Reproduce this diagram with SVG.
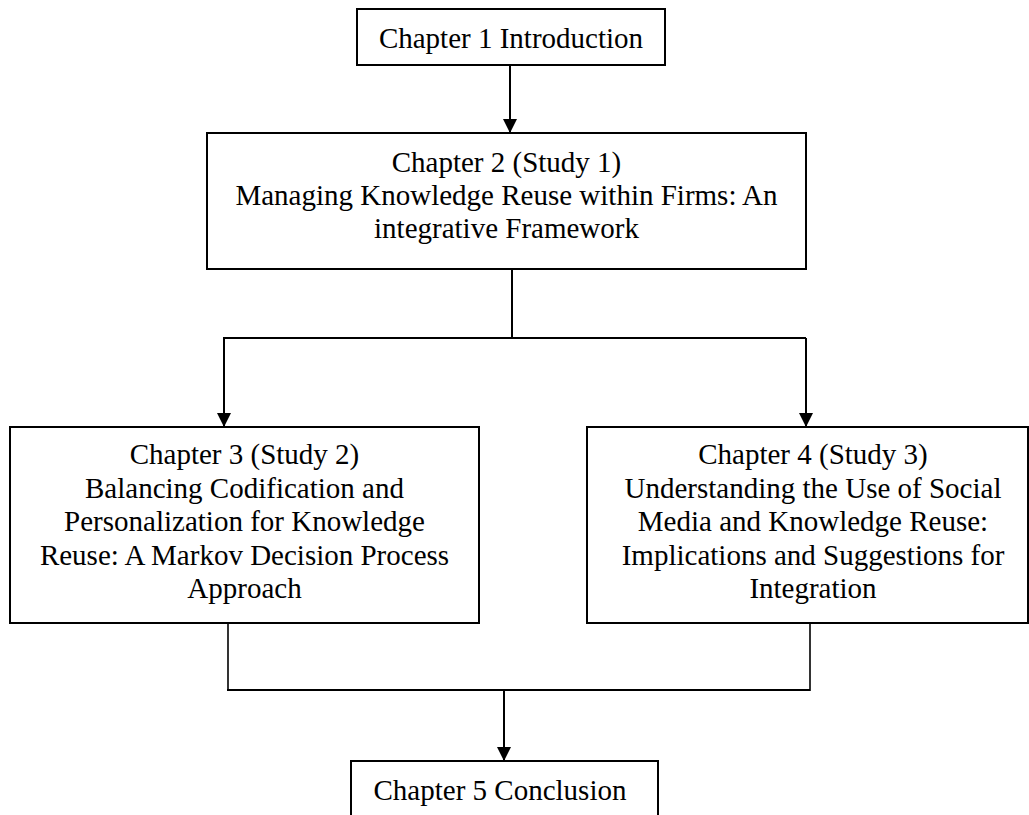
<svg xmlns="http://www.w3.org/2000/svg" width="1029" height="815" viewBox="0 0 1029 815">
<style>
.box{fill:#fff;stroke:#000;stroke-width:2}
.t{font-family:"Liberation Serif","Times New Roman",serif;font-size:29px;fill:#000;text-anchor:middle}
.c{fill:none;stroke:#000;stroke-width:2}
.c2{fill:none;stroke:#000;stroke-width:1.6}
</style>
<defs>
<marker id="ah" markerUnits="userSpaceOnUse" markerWidth="14" markerHeight="14" refX="14" refY="7" orient="auto">
<path d="M0,0 L14,7 L0,14 Z" fill="#000"/>
</marker>
</defs>
<g id="connectors">
<line class="c" x1="510" y1="65" x2="510" y2="133" marker-end="url(#ah)"/>
<polyline class="c" points="512,269 512,338"/>
<line class="c" x1="223" y1="338" x2="806" y2="338"/>
<line class="c" x1="224" y1="338" x2="224" y2="427" marker-end="url(#ah)"/>
<line class="c" x1="806" y1="338" x2="806" y2="427" marker-end="url(#ah)"/>
<line class="c2" x1="228" y1="624" x2="228" y2="691"/>
<line class="c2" x1="810" y1="624" x2="810" y2="691"/>
<line class="c" x1="227" y1="690" x2="810" y2="690"/>
<line class="c" x1="504" y1="690" x2="504" y2="761" marker-end="url(#ah)"/>
</g>
<g id="node1">
<rect class="box" x="357" y="9" width="308" height="56"/>
<text class="t" x="511" y="48">Chapter 1 Introduction</text>
</g>
<g id="node2">
<rect class="box" x="207" y="133" width="599" height="136"/>
<text class="t" x="506.5" y="172">Chapter 2 (Study 1)</text>
<text class="t" x="506.5" y="205">Managing Knowledge Reuse within Firms: An</text>
<text class="t" x="506.5" y="238">integrative Framework</text>
</g>
<g id="node3">
<rect class="box" x="10" y="427" width="469" height="196"/>
<text class="t" x="244.5" y="464">Chapter 3 (Study 2)</text>
<text class="t" x="244.5" y="497.5">Balancing Codification and</text>
<text class="t" x="244.5" y="531">Personalization for Knowledge</text>
<text class="t" x="244.5" y="564.5">Reuse: A Markov Decision Process</text>
<text class="t" x="244.5" y="598">Approach</text>
</g>
<g id="node4">
<rect class="box" x="587" y="427" width="441" height="196"/>
<text class="t" x="813" y="464">Chapter 4 (Study 3)</text>
<text class="t" x="813" y="497.5">Understanding the Use of Social</text>
<text class="t" x="813" y="531">Media and Knowledge Reuse:</text>
<text class="t" x="813" y="564.5">Implications and Suggestions for</text>
<text class="t" x="813" y="598">Integration</text>
</g>
<g id="node5">
<rect class="box" x="351" y="761" width="307" height="70"/>
<text class="t" x="500" y="800">Chapter 5 Conclusion</text>
</g>
</svg>
